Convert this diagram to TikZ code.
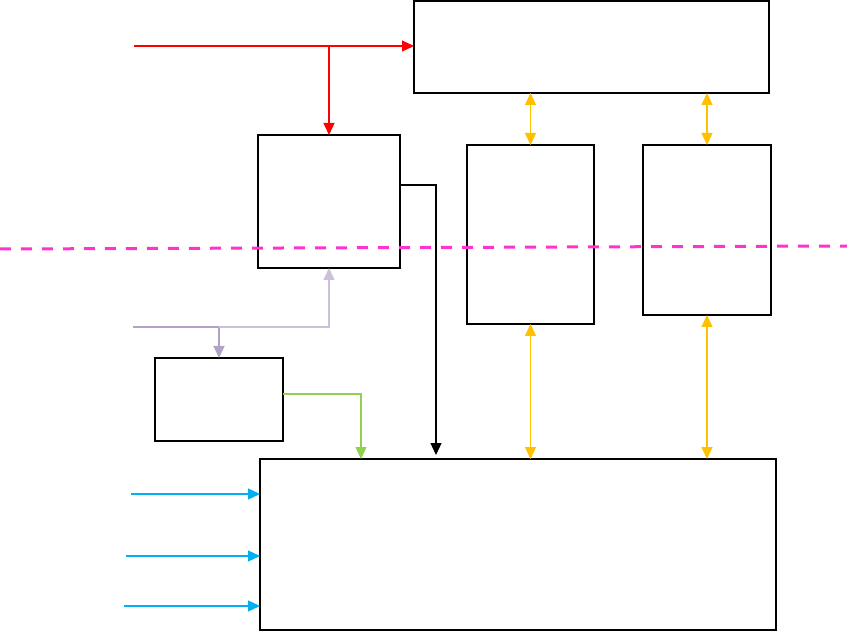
\documentclass[tikz,border=0pt]{standalone}
\usetikzlibrary{arrows.meta}
\definecolor{redline}{HTML}{FF0000}
\definecolor{pinkline}{HTML}{FF33CC}
\definecolor{lavdark}{HTML}{B3A2C7}
\definecolor{lavlight}{HTML}{CCC1DA}
\definecolor{greenline}{HTML}{92D050}
\definecolor{yellowline}{HTML}{FFC000}
\definecolor{blueline}{HTML}{00B0F0}
\tikzset{
  box/.style={draw=black, line width=2pt, inner sep=0pt, outer sep=0pt, anchor=north west},
  thinbox/.style={box, line width=1.5pt},
  conn/.style={line width=1.3pt, -{Triangle[length=12pt,width=11pt]}},
  biconn/.style={line width=1.3pt, {Triangle[length=12pt,width=11pt]}-{Triangle[length=12pt,width=11pt]}},
}
\begin{document}
\begin{tikzpicture}[x=1pt,y=-1pt]
\useasboundingbox (0,0) rectangle (847,631);
% boxes
\node[box, minimum width=355pt, minimum height=92pt] (T) at (414,1) {};
\node[box, minimum width=142pt, minimum height=133pt] (A) at (258,135) {};
\node[thinbox, minimum width=127pt, minimum height=179pt] (B) at (467,145) {};
\node[box, minimum width=128pt, minimum height=170pt] (C) at (643,145) {};
\node[box, minimum width=128pt, minimum height=83pt] (D) at (155,358) {};
\node[box, minimum width=516pt, minimum height=171pt] (E) at (260,459) {};
% pink dashed line
\coordinate (p0) at (0,249);
\coordinate (p1) at (847,246);
\draw[pinkline, line width=3pt, dash pattern=on 11pt off 10pt] (p0) -- (p1);
% red
\coordinate (r0) at (134,46);
\coordinate (rb) at (329,46);
\draw[redline, conn] (r0) -- (T.west |- r0);
\draw[redline, conn] (rb) -- (A.north);
% black
\coordinate (k1) at (436,185);
\draw[black, conn] (A.east |- k1) -- (k1) -- ([yshift=4pt]E.north -| k1);
% lavender
\coordinate (l0) at (133,327);
\coordinate (lb) at (219,327);
\coordinate (lc) at (329,327);
\draw[lavdark, conn] (l0) -- (lb) -- (D.north);
\draw[lavlight, conn] (lb) -- (lc) -- (A.south);
% green
\coordinate (g1) at (361,394);
\draw[greenline, conn] (D.east |- g1) -- (g1) -- (E.north -| g1);
% yellow
\draw[yellowline, biconn] (T.south -| B.north) -- (B.north);
\draw[yellowline, biconn] (T.south -| C.north) -- (C.north);
\draw[yellowline, biconn] (B.south) -- (E.north -| B.south);
\draw[yellowline, biconn] (C.south) -- (E.north -| C.south);
% blue
\coordinate (b1) at (131,494);
\coordinate (b2) at (126,556);
\coordinate (b3) at (124,606);
\draw[blueline, conn] (b1) -- (E.west |- b1);
\draw[blueline, conn] (b2) -- (E.west |- b2);
\draw[blueline, conn] (b3) -- (E.west |- b3);
\end{tikzpicture}
\end{document}
